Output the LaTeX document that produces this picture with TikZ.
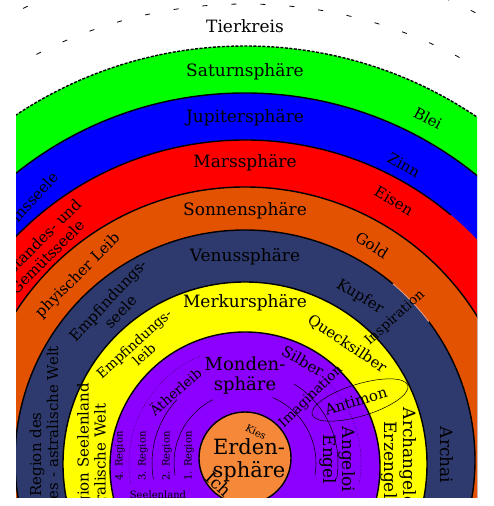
\documentclass[tikz,border=0pt]{standalone}
\usepackage{fontspec}
\setmainfont{DejaVu Serif}
\usetikzlibrary{calc}
\definecolor{saturn}{RGB}{0,255,0}
\definecolor{jupiter}{RGB}{0,0,255}
\definecolor{mars}{RGB}{255,0,0}
\definecolor{sonne}{RGB}{226,82,0}
\definecolor{venus}{RGB}{46,58,110}
\definecolor{merkur}{RGB}{255,255,0}
\definecolor{mond}{RGB}{140,0,255}
\definecolor{erde}{RGB}{246,136,58}
\definecolor{seam}{RGB}{236,160,130}
\begin{document}
\begin{tikzpicture}[x=1pt,y=1pt,
  big/.style={font=\fontsize{17}{19}\selectfont, inner sep=0pt, align=center},
  mid/.style={font=\fontsize{15}{17}\selectfont, inner sep=0pt, align=center},
  smaller/.style={font=\fontsize{13.5}{15}\selectfont, inner sep=0pt, align=center},
  tiny/.style={font=\fontsize{10}{12}\selectfont, inner sep=0pt, align=center},
  border/.style={line width=1.4pt},
  hair/.style={line width=0.5pt},
  zodiac/.style={line width=0.8pt, dash pattern=on 5pt off 24pt}]
\useasboundingbox (0,0) rectangle (493,506);
\fill[white] (0,0) rectangle (493,506);
\begin{scope}
\clip (16,8) rectangle (477,506);
\coordinate (C) at (245,46);   % outer spheres
\coordinate (CY) at (245,42);  % Merkur
\coordinate (CM) at (245,39);  % Mond
\coordinate (CR) at (245,43);  % soul regions
\coordinate (CE) at (245,48);  % Erde
% zodiac circles
\draw[zodiac] (C) circle[radius=503];
\draw[zodiac] (C) circle[radius=456];
% planetary spheres, outside in
\fill[saturn]  (C) circle[radius=414];
\fill[jupiter] (C) circle[radius=367];
\fill[mars]    (C) circle[radius=320];
\fill[sonne]   (C) circle[radius=273];
\fill[venus]   (C) circle[radius=230];
\fill[merkur]  (CY) circle[radius=182];
\fill[mond]    (CM) circle[radius=135];
% sphere borders
\draw[border, dash pattern=on 3pt off 1.5pt] (C) circle[radius=414];
\draw[border] (C) circle[radius=367];
\draw[border] ($(C)+(50:320)$) arc[start angle=50, end angle=190, radius=320];
\draw[border] (C) circle[radius=273];
\draw[border] ($(C)+(50:230)$) arc[start angle=50, end angle=190, radius=230];
\draw[border] ($(C)+(-10:230)$) arc[start angle=-10, end angle=37, radius=230];
\draw[line width=0.8pt, seam] ($(C)+(37:230)$) arc[start angle=37, end angle=50, radius=230];
\draw[border] (CY) circle[radius=182];
\draw[border] (CM) circle[radius=135];
% regions inside the moon sphere
\draw[hair] ($(CR)+(117:71)$) arc[start angle=117, end angle=190, radius=71];
\draw[hair] ($(CR)+(-10:71)$) arc[start angle=-10, end angle=67, radius=71];
\draw[hair] ($(CR)+(137:93)$) arc[start angle=137, end angle=190, radius=93];
\draw[hair] ($(CR)+(-10:93)$) arc[start angle=-10, end angle=58, radius=93];
\draw[hair, dotted] ($(CR)+(113:116)$) arc[start angle=113, end angle=190, radius=116];
\draw[hair, dotted] ($(CR)+(-10:116)$) arc[start angle=-10, end angle=50, radius=116];
\draw[hair, rotate around={17:(360,106)}] (360,106) ellipse[x radius=50, y radius=16];
% earth
\fill[erde] (CE) circle[radius=46];
\draw[border] (CE) circle[radius=46];

% sphere names
\node[big] (tierkreis) at (245,480) {Tierkreis};
\node[big] (saturnname) at (245,434) {Saturnsphäre};
\node[big] (jupitername) at (245,388) {Jupitersphäre};
\node[big] (marsname) at (245,343) {Marssphäre};
\node[big] (sonnename) at (245,295) {Sonnensphäre};
\node[big] (venusname) at (245,249) {Venussphäre};
\node[big] (merkurname) at (245,203) {Merkursphäre};
\node[big, font=\fontsize{18}{20}\selectfont] (mondname) at (245,130) {Monden-\\sphäre};
\node[big, font=\fontsize{21}{23}\selectfont] (erdename) at (249,46) {Erden-\\sphäre};
\node[tiny, rotate=-28] (kies) at (256,74) {Kies};
\node[big, rotate=-42] (ich) at (219,22) {Ich};

% metals
\node[mid, rotate=-28] (blei) at (428,388) {Blei};
\node[mid, rotate=-30] (zinn) at (404,341) {Zinn};
\node[mid, rotate=-31] (eisen) at (394,305) {Eisen};
\node[mid, rotate=-32] (gold) at (372,261) {Gold};
\node[mid, rotate=-31] (kupfer) at (360,209) {Kupfer};
\node[mid, rotate=-34] (quecksilber) at (347,162) {Quecksilber};
\node[mid, rotate=-30] (silber) at (303,145) {Silber};
\node[mid, rotate=17] (antimon) at (356,105) {Antimon};

% stages of knowledge
\node[smaller, rotate=44] (imagination) at (311,109) {Imagination};
\node[smaller, rotate=42] (inspiration) at (395,188) {Inspiration};

% hierarchies
\node[big, rotate=-90] (angeloi) at (337.5,46.5) {Angeloi\\Engel};
\node[big, rotate=-90] (archangeloi) at (399,46) {Archangeloi\\Erzengel};
\node[big, rotate=-90] (archai) at (447,51) {Archai};

% members of the human being
\node[mid, rotate=48, anchor=east] (bewusst) at (55,332) {Bewusstseinsseele};
\node[mid, rotate=45] (verstand) at (41,255) {Verstandes- und\\Gemütsseele};
\node[mid, rotate=45] (leib) at (78,230) {phyischer Leib};
\node[mid, rotate=47] (empfseele) at (114,200) {Empfindungs-\\seele};
\node[smaller, rotate=42] (empfleib) at (139,157) {Empfindungs-\\leib};
\node[smaller, rotate=41] (aether) at (175,115) {Ätherleib};

% regions of the soul world
\node[tiny, rotate=90] (reg4) at (120,50) {4. Region};
\node[tiny, rotate=90] (reg3) at (143,50) {3. Region};
\node[tiny, rotate=90] (reg2) at (167,50) {2. Region};
\node[tiny, rotate=90] (reg1) at (189,50) {1. Region};
\node[tiny] (seelenland) at (158,11) {Seelenland};
\node[mid, rotate=90, anchor=east] (reg5) at (91.5,123) {5. Region Seelenland\\astralische Welt};
\node[mid, rotate=90, anchor=east] (reg6) at (44,160) {6. Region des\\Seelenlandes - astralische Welt};
\end{scope}
\end{tikzpicture}
\end{document}
